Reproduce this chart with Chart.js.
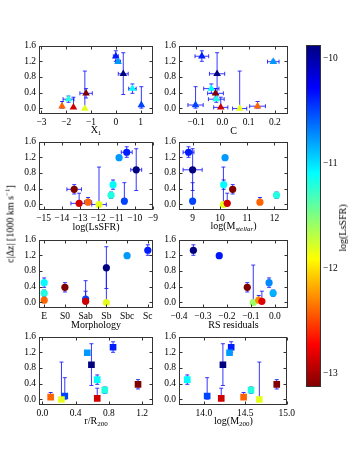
<!DOCTYPE html>
<html>
<head>
<meta charset="utf-8">
<script src="https://cdn.jsdelivr.net/npm/chart.js@4.4.1/dist/chart.umd.min.js"></script>
<style>
    html, body { margin: 0; padding: 0; background: #fff; }
    #fig { position: relative; width: 360px; height: 450px; overflow: hidden;
           font-family: 'Liberation Serif', 'Times New Roman', serif; color: #000; }
    #fig canvas { position: absolute; }
    .lbl { position: absolute; font-size: 10px; line-height: 1; white-space: nowrap;
           transform: translate(-50%, -50%); }
    .lbl sub { font-size: 7px; vertical-align: -2px; }
    .lbl sup { font-size: 7px; vertical-align: 4px; }
    .rot { transform: translate(-50%, -50%) rotate(-90deg); }
</style>
</head>
<body>
<div id="fig"></div>
<script>
(function () {
    'use strict';

    // ten clusters, same order in every array
    var DZ =     [0.88, 1.33, 1.19, 0.08, 0.50, 0.23, -0.01, 0.05, 0.02, 0.38];
    var DZ_LO =  [0.53, 0.13, 0.04, 0.08, 0.12, 0.08, 0.00, 0.05, 0.02, 0.12];
    var DZ_HI =  [0.54, 0.14, 0.04, 0.47, 0.12, 0.08, 0.96, 0.12, 0.26, 0.12];

    var LSSFR =     [-9.92, -10.44, -10.86, -10.57, -11.19, -11.30, -11.96, -12.56, -13.05, -13.32];
    var LSSFR_ERR = [0.30, 0.30, 0, 0, 0, 0, 0.40, 0.20, 0.45, 0.40];

    var X1 =     [0.30, 0.00, 0.09, 1.03, 0.67, -1.91, -1.25, -2.17, -1.71, -1.20];
    var X1_ERR = [0.20, 0.10, 0.10, 0, 0.15, 0.22, 0, 0, 0, 0.25];

    var CONC =     [-0.020, -0.078, 0.194, -0.102, -0.042, -0.023, 0.066, 0.134, -0.006, -0.026];
    var CONC_ERR = [0.029, 0.026, 0.022, 0.029, 0.029, 0.030, 0.027, 0.030, 0.027, 0.030];

    var MSTAR =     [9.00, 8.85, 10.19, 9.00, 10.14, 12.08, 10.13, 11.47, 10.27, 10.47];
    var MSTAR_ERR = [0.35, 0.20, 0, 0, 0, 0, 0, 0, 0, 0];

    var MORPH_LABELS = ['E', 'S0', 'Sab', 'Sb', 'Sbc', 'Sc'];
    var MORPH = [3, 5, 4, 2, 0, 0, 3, 0, 2, 1];

    var RS_RES = [null, -0.34, -0.232, null, -0.024, -0.007, -0.09, -0.067, -0.054, -0.115];
    var R_R200 = [0.59, 0.85, 0.54, 0.27, 0.66, 0.75, 0.23, 0.10, 0.66, 1.15];
    var M200 =   [14.23, 14.33, 14.31, 14.04, 13.80, 14.57, 14.67, 14.48, 14.21, 14.88];

    var DZ_TICKS = [0, 0.4, 0.8, 1.2, 1.6];
    var X1_TICKS = [-3, -2, -1, 0, 1];
    var CONC_TICKS = [-0.1, 0, 0.1, 0.2];
    var LSSFR_TICKS = [-15, -14, -13, -12, -11, -10, -9];
    var MSTAR_TICKS = [9, 10, 11, 12];
    var MORPH_TICKS = [0, 1, 2, 3, 4, 5];
    var RS_TICKS = [-0.4, -0.3, -0.2, -0.1, 0];
    var R_TICKS = [0, 0.4, 0.8, 1.2];
    var M200_TICKS = [14, 14.5, 15];
    var CBAR_TICKS = [-13, -12, -11, -10];
    var CBAR_MIN = -13.13, CBAR_MAX = -9.87;

    var FONT = "'Liberation Serif', 'Times New Roman', serif";
    var ERR_COLOR = 'rgba(20,20,255,0.85)';
    var COLS = [39, 179], WIDTHS = [114, 109];
    var ROWS = [45, 141, 239, 336], PH = 69;
    var PAD_L = 32, PAD_T = 8, PAD_R = 10, AX_H = 14;
    var TICK = 3, CAP = 2;

    var fig = document.getElementById('fig');

    function clamp(v) {
        return Math.max(0, Math.min(1, v));
    }
    // matplotlib "jet"
    function jet(s) {
        var r = clamp(Math.min(4 * s - 1.5, -4 * s + 4.5));
        var g = clamp(Math.min(4 * s - 0.5, -4 * s + 3.5));
        var b = clamp(Math.min(4 * s + 0.5, -4 * s + 2.5));
        return 'rgb(' + Math.round(r * 255) + ',' + Math.round(g * 255) + ',' + Math.round(b * 255) + ')';
    }

    function fmt(dec) {
        return function (v) {
            var s = Math.abs(v).toFixed(dec);
            return (v < -1e-9 ? '\u2212' : '') + s;
        };
    }

    function addLabel(html, x, y, rotate) {
        var d = document.createElement('div');
        d.className = 'lbl' + (rotate ? ' rot' : '');
        d.style.left = x + 'px';
        d.style.top = y + 'px';
        d.innerHTML = html;
        fig.appendChild(d);
    }

    function addCanvas(left, top, w, h) {
        var cv = document.createElement('canvas');
        cv.width = w;
        cv.height = h;
        cv.style.left = left + 'px';
        cv.style.top = top + 'px';
        fig.appendChild(cv);
        return cv;
    }

    var errorBars = {
        id: 'errorBars',
        beforeDatasetsDraw: function (chart) {
            var ctx = chart.ctx, xs = chart.scales.x, ys = chart.scales.y, a = chart.chartArea;
            ctx.save();
            ctx.beginPath();
            ctx.rect(a.left, a.top, a.right - a.left, a.bottom - a.top);
            ctx.clip();
            ctx.strokeStyle = ERR_COLOR;
            ctx.lineWidth = 1;
            chart.data.datasets[0].data.forEach(function (d) {
                var px = xs.getPixelForValue(d.x), py = ys.getPixelForValue(d.y);
                ctx.beginPath();
                if (d.yl || d.yh) {
                    var y0 = ys.getPixelForValue(d.y - d.yl), y1 = ys.getPixelForValue(d.y + d.yh);
                    ctx.moveTo(px, y0); ctx.lineTo(px, y1);
                    ctx.moveTo(px - CAP, y0); ctx.lineTo(px + CAP, y0);
                    ctx.moveTo(px - CAP, y1); ctx.lineTo(px + CAP, y1);
                }
                if (d.xe) {
                    var x0 = xs.getPixelForValue(d.x - d.xe), x1 = xs.getPixelForValue(d.x + d.xe);
                    ctx.moveTo(x0, py); ctx.lineTo(x1, py);
                    ctx.moveTo(x0, py - CAP); ctx.lineTo(x0, py + CAP);
                    ctx.moveTo(x1, py - CAP); ctx.lineTo(x1, py + CAP);
                }
                ctx.stroke();
            });
            ctx.restore();
        }
    };

    // box with inward ticks on all four sides
    var frame = {
        id: 'frame',
        afterDraw: function (chart) {
            var ctx = chart.ctx, a = chart.chartArea, xs = chart.scales.x, ys = chart.scales.y;
            var L = Math.round(a.left) + 0.5, R = Math.round(a.right) - 0.5;
            var T = Math.round(a.top) + 0.5, B = Math.round(a.bottom) - 0.5;
            ctx.save();
            ctx.strokeStyle = '#333';
            ctx.lineWidth = 1;
            ctx.strokeRect(L, T, R - L, B - T);
            ctx.beginPath();
            xs.ticks.forEach(function (t) {
                var x = Math.round(xs.getPixelForValue(t.value)) + 0.5;
                ctx.moveTo(x, B); ctx.lineTo(x, B - TICK);
                ctx.moveTo(x, T); ctx.lineTo(x, T + TICK);
            });
            ys.ticks.forEach(function (t) {
                var y = Math.round(ys.getPixelForValue(t.value)) + 0.5;
                ctx.moveTo(L, y); ctx.lineTo(L + TICK, y);
                ctx.moveTo(R, y); ctx.lineTo(R - TICK, y);
            });
            ctx.stroke();
            ctx.restore();
        }
    };

    function axis(min, max, ticks, cb, fit) {
        return {
            type: 'linear',
            min: min,
            max: max,
            afterBuildTicks: function (ax) {
                ax.ticks = ticks.map(function (v) { return { value: v }; });
            },
            afterFit: fit,
            grid: { display: false, drawTicks: false },
            border: { display: false },
            ticks: {
                color: '#000',
                font: { family: FONT, size: 9.5 },
                padding: 3,
                autoSkip: false,
                maxRotation: 0,
                callback: cb
            }
        };
    }

    var panels = [
        { x: X1, xe: X1_ERR, min: -3.1, max: 1.5, ticks: X1_TICKS, cb: fmt(0), marker: 'triangle', col: 0, row: 0, title: 'X<sub>1</sub>' },
        { x: CONC, xe: CONC_ERR, min: -0.165, max: 0.25, ticks: CONC_TICKS, cb: fmt(1), marker: 'triangle', col: 1, row: 0, title: 'C' },
        { x: LSSFR, xe: LSSFR_ERR, min: -15.25, max: -9, ticks: LSSFR_TICKS, cb: fmt(0), marker: 'circle', col: 0, row: 1, title: 'log(LsSFR)' },
        { x: MSTAR, xe: MSTAR_ERR, min: 8.5, max: 12.5, ticks: MSTAR_TICKS, cb: fmt(0), marker: 'circle', col: 1, row: 1, title: 'log(M<sub><i>stellar</i></sub>)' },
        { x: MORPH, xe: null, min: -0.25, max: 5.25, ticks: MORPH_TICKS, cb: function (v) { return MORPH_LABELS[v]; }, marker: 'circle', col: 0, row: 2, title: 'Morphology' },
        { x: RS_RES, xe: null, min: -0.4, max: 0.055, ticks: RS_TICKS, cb: fmt(1), marker: 'circle', col: 1, row: 2, title: 'RS residuals' },
        { x: R_R200, xe: null, min: -0.04, max: 1.33, ticks: R_TICKS, cb: fmt(1), marker: 'rect', col: 0, row: 3, title: 'r/R<sub>200</sub>' },
        { x: M200, xe: null, min: 13.7, max: 15.0, ticks: M200_TICKS, cb: fmt(1), marker: 'rect', col: 1, row: 3, title: 'log(M<sub>200</sub>)' }
    ];

    var RADIUS = { triangle: 4.4, circle: 3.6, rect: 4.7 };

    panels.forEach(function (p) {
        var idx = [];
        p.x.forEach(function (v, i) { if (v !== null) idx.push(i); });
        // colours normalised on the clusters present in this panel
        var vals = idx.map(function (i) { return LSSFR[i]; });
        var lo = Math.min.apply(null, vals), hi = Math.max.apply(null, vals);
        var pts = idx.map(function (i) {
            return { x: p.x[i], y: DZ[i], yl: DZ_LO[i], yh: DZ_HI[i], xe: p.xe ? p.xe[i] : 0 };
        });
        var colors = idx.map(function (i) {
            return jet(1 - (LSSFR[i] - lo) / (hi - lo));
        });

        var w = PAD_L + WIDTHS[p.col] + PAD_R, h = PAD_T + PH + AX_H;
        var cv = addCanvas(COLS[p.col] - PAD_L, ROWS[p.row] - PAD_T, w, h);

        new Chart(cv, {
            type: 'scatter',
            data: {
                datasets: [{
                    data: pts,
                    pointStyle: p.marker,
                    pointRadius: RADIUS[p.marker],
                    backgroundColor: colors,
                    borderColor: colors,
                    borderWidth: 0
                }]
            },
            options: {
                responsive: false,
                animation: false,
                events: [],
                layout: { padding: { left: 0, top: PAD_T, right: PAD_R, bottom: 0 } },
                plugins: { legend: { display: false }, tooltip: { enabled: false } },
                scales: {
                    x: axis(p.min, p.max, p.ticks, p.cb, function (ax) { ax.height = AX_H; }),
                    y: axis(-0.15, 1.6, DZ_TICKS, fmt(1), function (ax) { ax.width = PAD_L; })
                }
            },
            plugins: [errorBars, frame]
        });

        addLabel(p.title, COLS[p.col] + WIDTHS[p.col] / 2, ROWS[p.row] + PH + 17);
    });

    addLabel('c|\u0394z| [1000 km s<sup>\u22121</sup>]', 10, 224, true);

    // colour bar
    var cbFill = {
        id: 'cbFill',
        beforeDraw: function (chart) {
            var ctx = chart.ctx, a = chart.chartArea;
            var g = ctx.createLinearGradient(0, a.top, 0, a.bottom);
            for (var i = 0; i <= 40; i++) {
                g.addColorStop(i / 40, jet(i / 40));
            }
            ctx.save();
            ctx.fillStyle = g;
            ctx.fillRect(a.left, a.top, a.right - a.left, a.bottom - a.top);
            ctx.strokeStyle = '#333';
            ctx.lineWidth = 1;
            ctx.strokeRect(Math.round(a.left) + 0.5, Math.round(a.top) + 0.5,
                Math.round(a.right - a.left) - 1, Math.round(a.bottom - a.top) - 1);
            ctx.restore();
        }
    };
    var cbCanvas = addCanvas(306, 45 - 8, 15 + 30, 342 + 16);
    var cbY = axis(CBAR_MIN, CBAR_MAX, CBAR_TICKS, fmt(0), function (ax) { ax.width = 30; });
    cbY.position = 'right';
    cbY.ticks.padding = 2;
    new Chart(cbCanvas, {
        type: 'scatter',
        data: { datasets: [] },
        options: {
            responsive: false,
            animation: false,
            events: [],
            layout: { padding: { left: 0, top: 8, right: 0, bottom: 8 } },
            plugins: { legend: { display: false }, tooltip: { enabled: false } },
            scales: {
                x: { display: false, min: 0, max: 1 },
                y: cbY
            }
        },
        plugins: [cbFill]
    });
    addLabel('log(LsSFR)', 343, 228, true);
})();
</script>
</body>
</html>
